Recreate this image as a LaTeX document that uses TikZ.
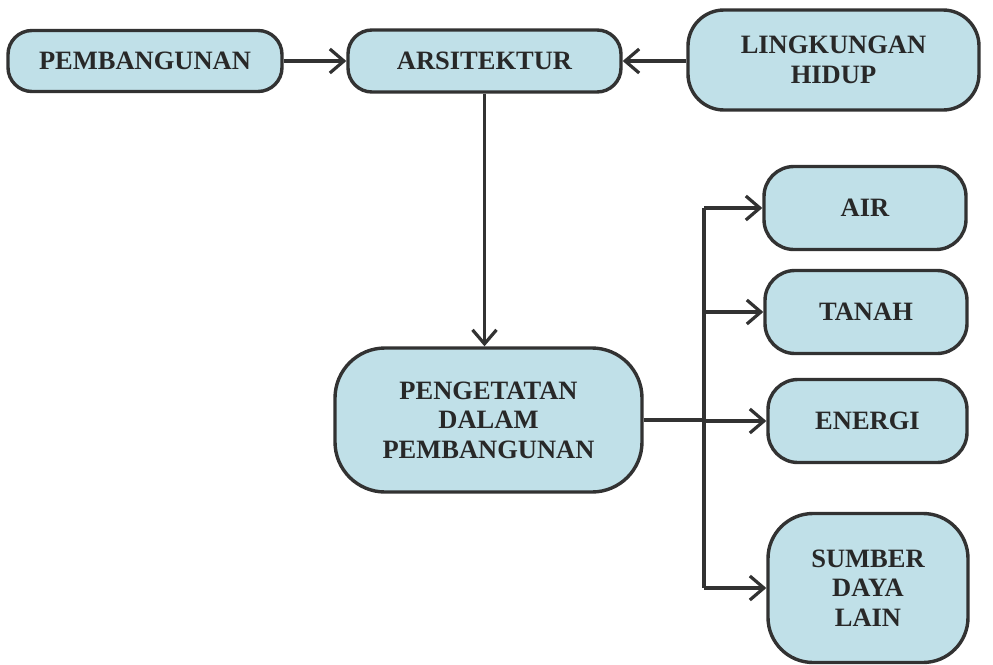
\documentclass[tikz,border=0pt]{standalone}
\usepackage{fontspec}
\setmainfont{Liberation Serif}
\usetikzlibrary{arrows.meta}
\definecolor{boxfill}{RGB}{192,224,232}
\definecolor{boxline}{RGB}{50,50,50}
\definecolor{txt}{RGB}{40,40,40}
\begin{document}
\begin{tikzpicture}[x=1pt,y=-1pt,
  box/.style={draw=boxline, fill=boxfill, line width=3.4pt, rounded corners=#1,
    align=center, text=txt, font=\fontsize{26.5}{29.5}\selectfont\bfseries, inner sep=0pt},
  box/.default=24pt,
  conn/.style={draw=boxline, line width=3.2pt},
  arr/.style={conn, -{Straight Barb[length=14pt,width=24pt]}}]
\useasboundingbox[fill=white] (0,0) rectangle (993,664);
\node[box, minimum width=274pt, minimum height=61pt] (pemb) at (145,61) {PEMBANGUNAN};
\node[box, minimum width=273pt, minimum height=62pt] (arsi) at (484.5,61) {ARSITEKTUR};
\node[box=36pt, minimum width=291pt, minimum height=100pt] (ling) at (833.5,60) {LINGKUNGAN\\HIDUP};
\node[box=50pt, minimum width=307pt, minimum height=144pt] (peng) at (488.5,420) {PENGETATAN\\DALAM\\PEMBANGUNAN};
\node[box=30pt, minimum width=202pt, minimum height=83pt] (air) at (865,208) {AIR};
\node[box=30pt, minimum width=202pt, minimum height=83pt] (tanah) at (866,312) {TANAH};
\node[box=30pt, minimum width=199pt, minimum height=83pt] (energi) at (867.5,421) {ENERGI};
\node[box=45pt, minimum width=200pt, minimum height=149pt] (sumber) at (868,588) {SUMBER\\DAYA\\LAIN};
\coordinate (trunk) at (704,420);
\draw[arr] (pemb.east) -- (arsi.west);
\draw[arr] (ling.west |- arsi.east) -- (arsi.east);
\draw[arr] (arsi.south) -- (arsi.south |- peng.north);
\draw[conn] (peng.east) -- (trunk);
\draw[conn] (trunk |- air.west) -- (trunk |- sumber.west);
\draw[arr] (trunk |- air.west) -- (air.west);
\draw[arr] (trunk |- tanah.west) -- (tanah.west);
\draw[arr] (trunk |- energi.west) -- (energi.west);
\draw[arr] (trunk |- sumber.west) -- (sumber.west);
\end{tikzpicture}
\end{document}
